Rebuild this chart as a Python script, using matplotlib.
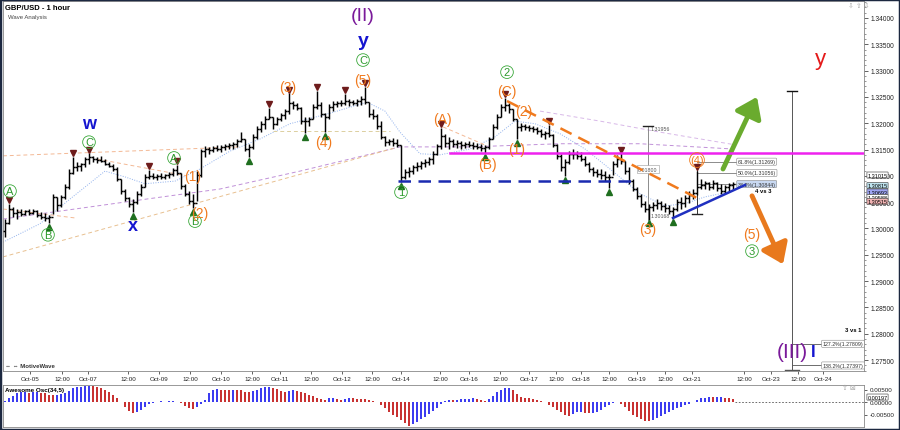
import numpy as np
import matplotlib
matplotlib.use('Agg')
import matplotlib.pyplot as plt
from matplotlib.collections import LineCollection
from matplotlib.patches import Rectangle

plt.rcParams['font.family'] = ['Liberation Sans', 'DejaVu Sans']

# ---------------- data (hourly-ish bars, bar index on x) ----------------
high = [1.3018, 1.3047, 1.3041, 1.3037, 1.3037, 1.3035, 1.3037, 1.3037, 1.3035, 1.3031,
        1.3029, 1.3026, 1.3066, 1.3060, 1.3064, 1.3085, 1.3113, 1.3136, 1.3126, 1.3124,
        1.3136, 1.3143, 1.3138, 1.3136, 1.3138, 1.3132, 1.3126, 1.3123, 1.3117, 1.3094,
        1.3075, 1.3060, 1.3056, 1.3071, 1.3085, 1.3104, 1.3111, 1.3105, 1.3104, 1.3105,
        1.3104, 1.3107, 1.3115, 1.3121, 1.3105, 1.3085, 1.3071, 1.3066, 1.3109, 1.3151,
        1.3157, 1.3155, 1.3157, 1.3159, 1.3159, 1.3161, 1.3163, 1.3164, 1.3170, 1.3183,
        1.3170, 1.3161, 1.3180, 1.3195, 1.3204, 1.3214, 1.3229, 1.3212, 1.3212, 1.3219,
        1.3227, 1.3257, 1.3242, 1.3238, 1.3231, 1.3212, 1.3212, 1.3237, 1.3261, 1.3240,
        1.3219, 1.3237, 1.3242, 1.3242, 1.3244, 1.3256, 1.3246, 1.3244, 1.3246, 1.3252,
        1.3269, 1.3240, 1.3227, 1.3218, 1.3204, 1.3176, 1.3170, 1.3172, 1.3170, 1.3159,
        1.3113, 1.3117, 1.3121, 1.3126, 1.3128, 1.3132, 1.3136, 1.3147, 1.3161, 1.3191,
        1.3180, 1.3174, 1.3170, 1.3168, 1.3166, 1.3164, 1.3166, 1.3164, 1.3163, 1.3161,
        1.3159, 1.3174, 1.3199, 1.3218, 1.3237, 1.3248, 1.3238, 1.3227, 1.3208, 1.3200,
        1.3199, 1.3197, 1.3195, 1.3193, 1.3189, 1.3185, 1.3197, 1.3180, 1.3161, 1.3142,
        1.3132, 1.3147, 1.3151, 1.3147, 1.3145, 1.3138, 1.3126, 1.3117, 1.3113, 1.3113,
        1.3109, 1.3104, 1.3128, 1.3140, 1.3143, 1.3128, 1.3117, 1.3094, 1.3079, 1.3066,
        1.3052, 1.3047, 1.3050, 1.3056, 1.3052, 1.3048, 1.3045, 1.3041, 1.3056, 1.3060,
        1.3064, 1.3071, 1.3075, 1.3109, 1.3094, 1.3090, 1.3088, 1.3092, 1.3088, 1.3085,
        1.3083, 1.3086, 1.3088]
low = [1.2984, 1.3009, 1.3022, 1.3018, 1.3024, 1.3026, 1.3026, 1.3028, 1.3022, 1.3018,
       1.3014, 1.3010, 1.3028, 1.3033, 1.3041, 1.3056, 1.3075, 1.3104, 1.3109, 1.3109,
       1.3117, 1.3123, 1.3126, 1.3124, 1.3126, 1.3121, 1.3117, 1.3109, 1.3090, 1.3066,
       1.3052, 1.3041, 1.3031, 1.3047, 1.3062, 1.3079, 1.3094, 1.3094, 1.3092, 1.3094,
       1.3094, 1.3096, 1.3100, 1.3102, 1.3075, 1.3062, 1.3047, 1.3039, 1.3052, 1.3098,
       1.3136, 1.3142, 1.3145, 1.3147, 1.3145, 1.3149, 1.3151, 1.3151, 1.3155, 1.3164,
       1.3147, 1.3136, 1.3151, 1.3170, 1.3183, 1.3189, 1.3208, 1.3189, 1.3197, 1.3204,
       1.3208, 1.3218, 1.3227, 1.3225, 1.3199, 1.3181, 1.3195, 1.3208, 1.3227, 1.3212,
       1.3183, 1.3208, 1.3223, 1.3231, 1.3233, 1.3235, 1.3233, 1.3235, 1.3233, 1.3235,
       1.3237, 1.3212, 1.3208, 1.3189, 1.3170, 1.3157, 1.3159, 1.3157, 1.3155, 1.3088,
       1.3094, 1.3098, 1.3104, 1.3109, 1.3113, 1.3117, 1.3121, 1.3123, 1.3140, 1.3151,
       1.3155, 1.3151, 1.3155, 1.3153, 1.3151, 1.3153, 1.3155, 1.3151, 1.3151, 1.3147,
       1.3143, 1.3151, 1.3170, 1.3189, 1.3212, 1.3223, 1.3219, 1.3204, 1.3170, 1.3185,
       1.3187, 1.3185, 1.3183, 1.3180, 1.3174, 1.3170, 1.3174, 1.3155, 1.3132, 1.3109,
       1.3100, 1.3123, 1.3132, 1.3132, 1.3128, 1.3119, 1.3107, 1.3100, 1.3098, 1.3094,
       1.3090, 1.3077, 1.3102, 1.3117, 1.3123, 1.3104, 1.3085, 1.3071, 1.3056, 1.3041,
       1.3031, 1.3017, 1.3033, 1.3037, 1.3035, 1.3031, 1.3028, 1.3019, 1.3033, 1.3037,
       1.3041, 1.3048, 1.3056, 1.3064, 1.3075, 1.3075, 1.3073, 1.3075, 1.3071, 1.3066,
       1.3068, 1.3071, 1.3075]
close = [1.3010, 1.3037, 1.3029, 1.3031, 1.3027, 1.3033, 1.3029, 1.3033, 1.3026, 1.3022,
         1.3020, 1.3022, 1.3060, 1.3045, 1.3060, 1.3079, 1.3105, 1.3117, 1.3119, 1.3123,
         1.3132, 1.3136, 1.3132, 1.3130, 1.3128, 1.3123, 1.3119, 1.3113, 1.3094, 1.3071,
         1.3058, 1.3047, 1.3050, 1.3066, 1.3079, 1.3098, 1.3100, 1.3098, 1.3100, 1.3098,
         1.3102, 1.3104, 1.3111, 1.3105, 1.3081, 1.3066, 1.3052, 1.3048, 1.3102, 1.3147,
         1.3151, 1.3149, 1.3153, 1.3151, 1.3155, 1.3157, 1.3159, 1.3161, 1.3166, 1.3170,
         1.3151, 1.3155, 1.3174, 1.3189, 1.3199, 1.3208, 1.3212, 1.3199, 1.3208, 1.3216,
         1.3223, 1.3238, 1.3235, 1.3229, 1.3204, 1.3204, 1.3208, 1.3231, 1.3235, 1.3218,
         1.3212, 1.3231, 1.3237, 1.3238, 1.3238, 1.3242, 1.3240, 1.3238, 1.3242, 1.3246,
         1.3240, 1.3218, 1.3214, 1.3195, 1.3174, 1.3164, 1.3166, 1.3162, 1.3159, 1.3098,
         1.3107, 1.3109, 1.3117, 1.3119, 1.3124, 1.3126, 1.3132, 1.3142, 1.3157, 1.3176,
         1.3162, 1.3166, 1.3161, 1.3162, 1.3159, 1.3161, 1.3159, 1.3157, 1.3155, 1.3153,
         1.3155, 1.3170, 1.3193, 1.3212, 1.3231, 1.3235, 1.3227, 1.3208, 1.3193, 1.3195,
         1.3193, 1.3191, 1.3189, 1.3185, 1.3180, 1.3181, 1.3178, 1.3159, 1.3138, 1.3117,
         1.3126, 1.3142, 1.3142, 1.3138, 1.3132, 1.3123, 1.3113, 1.3107, 1.3104, 1.3102,
         1.3098, 1.3098, 1.3123, 1.3132, 1.3128, 1.3109, 1.3090, 1.3075, 1.3062, 1.3047,
         1.3037, 1.3041, 1.3045, 1.3048, 1.3043, 1.3039, 1.3033, 1.3037, 1.3050, 1.3048,
         1.3058, 1.3064, 1.3067, 1.3079, 1.3083, 1.3086, 1.3079, 1.3086, 1.3077, 1.3071,
         1.3079, 1.3083, 1.3085]
first_open = 1.2995

osc = [.0005, .0015, .0025, .0035, .0040, .0042, .0038, .0040, .0042, .0038,
       .0035, .0030, .0028, .0030, .0033, .0036, .0045, .0055, .0060, .0062,
       .0064, .0065, .0063, .0060, .0055, .0048, .0040, .0028, .0015, .0000,
       -.0020, -.0035, -.0042, -.0040, -.0030, -.0018, -.0008, -.0002, .0002, .0003,
       .0002, .0003, .0004, .0002, -.0005, -.0015, -.0025, -.0028, -.0020, -.0008,
       .0010, .0035, .0050, .0052, .0050, .0050, .0049, .0050, .0050, .0048,
       .0042, .0040, .0044, .0050, .0055, .0060, .0062, .0058, .0052, .0045,
       .0042, .0045, .0048, .0046, .0040, .0035, .0030, .0025, .0018, .0012,
       .0010, .0015, .0018, .0014, .0010, .0014, .0015, .0015, .0014, .0013,
       .0012, .0010, .0006, .0000, -.0010, -.0025, -.0040, -.0050, -.0060, -.0072,
       -.0085, -.0095, -.0088, -.0078, -.0068, -.0058, -.0048, -.0035, -.0022, -.0008,
       .0005, .0010, .0008, .0010, .0012, .0013, .0014, .0015, .0013, .0010,
       .0006, .0012, .0025, .0040, .0050, .0055, .0057, .0048, .0032, .0022,
       .0018, .0016, .0014, .0010, .0006, .0000, -.0010, -.0020, -.0030, -.0040,
       -.0050, -.0055, -.0048, -.0040, -.0038, -.0042, -.0045, -.0043, -.0038, -.0030,
       -.0020, -.0010, -.0003, .0000, -.0008, -.0020, -.0035, -.0050, -.0060, -.0068,
       -.0074, -.0075, -.0070, -.0062, -.0055, -.0048, -.0040, -.0032, -.0025, -.0018,
       -.0012, -.0006, .0000, .0008, .0015, .0018, .0020, .0020, .0021, .0022,
       .0018, .0015, .0012]

date_tick_pos = [6.25, 14.25, 20.75, 30.75, 38.5, 46.25, 54, 61.75, 68.75, 76.5, 84.25, 91.75,
                 99, 108.75, 116, 123.75, 131, 137.75, 144, 151, 158, 165, 171.75, 184.75,
                 191.5, 198.25, 204.5]
date_tick_labels = ["Oct-05", "12:00", "Oct-07", "12:00", "Oct-09", "12:00", "Oct-10", "12:00",
                    "Oct-11", "12:00", "Oct-12", "12:00", "Oct-14", "12:00", "Oct-16", "12:00",
                    "Oct-17", "12:00", "Oct-18", "12:00", "Oct-19", "12:00", "Oct-21", "12:00",
                    "Oct-23", "12:00", "Oct-24"]
price_ticks = [1.275, 1.280, 1.285, 1.290, 1.295, 1.300, 1.305, 1.310, 1.315, 1.320,
               1.325, 1.330, 1.335, 1.340]
osc_ticks = [-0.005, 0.0, 0.005]

swing_high_idx = [1, 17, 21, 36, 43, 66, 71, 78, 85, 90, 109, 125, 136, 154, 173]
swing_low_idx = [11, 32, 47, 61, 75, 80, 99, 120, 128, 140, 151, 161, 167]

# moving averages / guide lines (control points: bar index, price)
ma_fast_x = [-0.5, 8.75, 16.25, 25, 30, 35, 42.5, 48.75, 56.25, 63.75, 71.25, 81.25, 90.5, 95,
             98.75, 103.75, 108.75, 116.25, 122.5, 127.5, 132.5, 138.75, 145, 151.25, 158.75,
             165, 170, 175, 182]
ma_fast_y = [1.2974, 1.3009, 1.3056, 1.3109, 1.3098, 1.3085, 1.3090, 1.3113, 1.3147, 1.3170,
             1.3199, 1.3219, 1.3240, 1.3223, 1.3183, 1.3142, 1.3140, 1.3151, 1.3174, 1.3204,
             1.3199, 1.3180, 1.3151, 1.3113, 1.3066, 1.3043, 1.3047, 1.3060, 1.3071]
ma_slow_x = [-0.5, 35.5, 53.75, 73.75, 98.75, 116.25, 138.75, 158.75, 182]
ma_slow_y = [1.3018, 1.3056, 1.3075, 1.3109, 1.3155, 1.3155, 1.3161, 1.3161, 1.3151]
ma_long_x = [133.75, 148.75, 163.75, 182.5]
ma_long_y = [1.3223, 1.3204, 1.3183, 1.3159]

wave_green = [("A", 1.25, 1.3071), ("B", 10.75, 1.2988), ("C", 21, 1.3164), ("A", 42.25, 1.3134),
              ("B", 47.5, 1.3014), ("C", 89.5, 1.3320), ("1", 99, 1.3069), ("2", 125.5, 1.3297),
              ("3", 186.75, 1.2957)]
wave_orange = [("(1)", 47, 1.3100), ("(2)", 48.75, 1.3029), ("(3)", 70.75, 1.3269),
               ("(4)", 79.75, 1.3164), ("(5)", 89.5, 1.3282), ("(A)", 109.25, 1.3208),
               ("(B)", 120.5, 1.3123), ("(C)", 125.5, 1.3261), ("(2)", 129.75, 1.3223),
               ("(1)", 128, 1.3151), ("(3)", 160.75, 1.2999), ("(5)", 186.75, 1.2990)]

fib_levels = [1.31269, 1.31056, 1.30844]
fib_names = ["61.8%", "50.0%", "38.2%"]
ext_levels = [1.27809, 1.27397]
ext_names = ["127.2%", "138.2%"]
axis_boxes = [(1.31015, "#ffffff"), (1.30815, "#bfe3ee"), (1.30693, "#9ea4f2"),
              (1.30588, "#ffffff"), (1.30515, "#f2b4b4")]

# ---------------- figure ----------------
W, H = 900, 431
fig = plt.figure(figsize=(9, 4.31), dpi=100)
fig.patch.set_facecolor('white')
ax = fig.add_axes([3 / W, 1 - 372 / H, 861 / W, 370 / H])
ax2 = fig.add_axes([3 / W, 1 - 428 / H, 861 / W, 42 / H], sharex=ax)

n = len(close)
idx = np.arange(n)
opens = [first_open] + close[:-1]

segs = []
for i in range(n):
    segs.append([(i, low[i]), (i, high[i])])
    segs.append([(i - 0.45, opens[i]), (i, opens[i])])
    segs.append([(i, close[i]), (i + 0.45, close[i])])

# guide lines (behind bars)
ax.plot(ma_fast_x, ma_fast_y, color='#8fb0ec', lw=0.7, ls=(0, (1, 1.5)), zorder=1)
ax.plot(ma_slow_x, ma_slow_y, color='#c090d8', lw=0.7, ls=(0, (4, 3)), zorder=1)
ax.plot(ma_long_x, ma_long_y, color='#d8b8e8', lw=0.7, ls=(0, (4, 3)), zorder=1)
ax.plot([-0.5, 58.75], [1.3138, 1.3155], color='#f3b894', lw=0.7, ls=(0, (4, 3)), zorder=1)
ax.plot([-0.5, 97.5], [1.2946, 1.3153], color='#e8c090', lw=0.7, ls=(0, (4, 3)), zorder=1)
ax.plot([-0.5, 17.5], [1.3037, 1.3020], color='#f3b894', lw=0.7, ls=(0, (4, 3)), zorder=1)
ax.plot([23, 45.5], [1.3132, 1.3100], color='#f3b894', lw=0.7, ls=(0, (4, 3)), zorder=1)
ax.plot([67, 96.25], [1.3185, 1.3185], color='#dccfa0', lw=0.7, ls=(0, (4, 3)), zorder=1)
ax.plot([109.5, 120.5], [1.3193, 1.3157], color='#f3b894', lw=0.7, ls=(0, (4, 3)), zorder=1)

ax.add_collection(LineCollection(segs, colors='black', linewidths=1.05, zorder=3))

hi = np.array(high)
lo = np.array(low)
ax.plot(swing_high_idx, hi[swing_high_idx] + 0.0007, 'v', color='#6e1c1c', ms=4, zorder=4)
ax.plot(swing_low_idx, lo[swing_low_idx] - 0.0007, '^', color='#1f6e1f', ms=4, zorder=4)

# structure lines
ax.plot([111.25, 214.75], [1.31434, 1.31434], color='#ee22ee', lw=1.8, zorder=5)
ax.plot([98.25, 156.75], [1.30902, 1.30902], color='#1a2ab0', lw=1.8, ls=(0, (5, 3)), zorder=5)
ax.plot([125.5, 173], [1.32422, 1.30579], color='#f07a1e', lw=1.8, ls=(0, (5, 3)), zorder=5)
ax.plot([167, 185], [1.30199, 1.30826], color='#2030c0', lw=1.8, zorder=5)

# fib tools (gray)
g = '#7a7a7a'
ax.plot([160.75, 160.75], [1.30168, 1.31956], color=g, lw=0.6, zorder=2)
ax.plot([159.5, 162], [1.31956, 1.31956], color='#222', lw=1.0, zorder=2)
ax.text(161.3, 1.3190, "1.31956", fontsize=3.8, color='#555', va='center', ha='left')
ax.text(160.75, 1.3113, "0.01800", fontsize=3.8, color='#555', va='center', ha='center',
        bbox=dict(boxstyle='square,pad=0.2', fc='white', ec='#999', lw=0.4))
ax.text(161.3, 1.3025, "1.30168", fontsize=3.8, color='#555', va='center', ha='left')

ax.plot([173, 173], [1.30275, 1.3117], color='#333', lw=0.7, zorder=2)
ax.plot([171.8, 174.2], [1.30275, 1.30275], color='#222', lw=1.0, zorder=2)
for lev, nm in zip(fib_levels, fib_names):
    ax.plot([173, 183], [lev, lev], color=g, lw=0.6, zorder=2)
    fc = '#c9d9f2' if nm == "38.2%" else 'white'
    ax.text(183.2, lev, f"{nm}({lev:.5f})", fontsize=3.8, color='#333', va='center', ha='left',
            bbox=dict(boxstyle='round,pad=0.2', fc=fc, ec='#888', lw=0.4))
ax.text(187.5, 1.3073, "4 vs 3", fontsize=4.2, fontweight='bold', va='center', ha='left')

ax.plot([196.75, 196.75], [1.2729, 1.32612], color='#555', lw=0.7, zorder=2)
ax.plot([195.6, 197.9], [1.32612, 1.32612], color='#111', lw=1.0, zorder=2)
ax.plot([195.0, 198.5], [1.2731, 1.2731], color='#555', lw=1.0, zorder=2)
for lev, nm in zip(ext_levels, ext_names):
    ax.plot([196.75, 204.25], [lev, lev], color='#555', lw=0.6, zorder=2)
    ax.text(204.4, lev, f"{nm}({lev:.5f})", fontsize=3.8, color='#333', va='center', ha='left',
            bbox=dict(boxstyle='round,pad=0.2', fc='white', ec='#888', lw=0.4))
ax.text(214.0, 1.2809, "3 vs 1", fontsize=4.2, fontweight='bold', va='center', ha='right')

# arrows
ax.annotate('', xy=(188, 1.3250), xytext=(179.5, 1.3113),
            arrowprops=dict(arrowstyle='-|>,head_width=0.5,head_length=0.7', lw=3.5,
                            color='#6aab2e', mutation_scale=17, shrinkA=0, shrinkB=0))
ax.annotate('', xy=(194.5, 1.2932), xytext=(186.75, 1.3062),
            arrowprops=dict(arrowstyle='-|>,head_width=0.5,head_length=0.7', lw=3.5,
                            color='#e8791d', mutation_scale=17, shrinkA=0, shrinkB=0))

# wave labels
for s, x, y in wave_green:
    ax.text(x, y, s, fontsize=8, color='#2d9a2d', ha='center', va='center', zorder=6,
            bbox=dict(boxstyle='circle,pad=0.12', fc='none', ec='#3aa83a', lw=0.6))
for s, x, y in wave_orange:
    ax.text(x, y, s, fontsize=10, color='#f07a1e', ha='center', va='center', zorder=6)
ax.text(173, 1.3130, "(4)", fontsize=8, color='#f07a1e', ha='center', va='center', zorder=6,
        bbox=dict(boxstyle='circle,pad=0.05', fc='none', ec='#f07a1e', lw=0.6))
ax.text(21, 1.3200, "w", fontsize=13, color='#1515d0', ha='center', va='center', fontweight='bold')
ax.text(32, 1.3005, "x", fontsize=13, color='#1515d0', ha='center', va='center', fontweight='bold')
ax.text(89.5, 1.3358, "y", fontsize=14, color='#1515d0', ha='center', va='center', fontweight='bold')
ax.text(89.5, 1.3404, "(II)", fontsize=14, color='#7a1a9a', ha='center', va='center')
ax.text(203.75, 1.3322, "y", fontsize=16, color='#e41a1a', ha='center', va='center')
ax.text(196.75, 1.2767, "(III)", fontsize=15, color='#7a1a9a', ha='center', va='center')
ax.text(202.0, 1.2767, "I", fontsize=12, color='#1515d0', ha='center', va='center', fontweight='bold')

# axis boxes on the right
ytr = ax.get_yaxis_transform()
for val, fc in axis_boxes:
    ax.text(1.004, val, f"{val:.5f}", transform=ytr, fontsize=4.0, va='center', ha='left',
            clip_on=False, zorder=7,
            bbox=dict(boxstyle='round,pad=0.1', fc=fc, ec='#555', lw=0.5))

# axes styling main
ax.set_xlim(-0.5, 214.75)
ax.set_ylim(1.27292, 1.34322)
ax.yaxis.tick_right()
ax.set_yticks(price_ticks)
ax.set_yticklabels([f"{t:.5f}" for t in price_ticks])
ax.set_yticks(np.arange(1.273, 1.343, 0.001), minor=True)
ax.tick_params(axis='y', which='major', length=3, width=0.5, labelsize=4.8, pad=1.5, colors='#222')
ax.tick_params(axis='y', which='minor', length=1.5, width=0.4, colors='#444')
ax.set_xticks(date_tick_pos)
ax.set_xticklabels(date_tick_labels)
ax.tick_params(axis='x', length=2, width=0.5, labelsize=4.5, pad=1.5, colors='#222')
for sp in ax.spines.values():
    sp.set_color('#888')
    sp.set_linewidth(0.6)

# oscillator
cols = ['#3c3cf0' if (k == 0 or osc[k] > osc[k - 1]) else '#c83232' for k in range(n)]
ax2.bar(idx, osc, width=0.62, color=cols, edgecolor='none')
ax2.plot([n - 0.5, 214.75], [0, 0], color='#555', lw=0.6, ls=(0, (2, 2)))
ax2.set_ylim(-0.0100, 0.0068)
ax2.yaxis.tick_right()
ax2.set_yticks(osc_ticks)
ax2.set_yticklabels([f"{t:.5f}" for t in osc_ticks])
ax2.tick_params(axis='y', length=2.5, width=0.5, labelsize=4.5, pad=1.5, colors='#222')
ax2.tick_params(axis='x', length=0, labelbottom=False)
for sp in ax2.spines.values():
    sp.set_color('#888')
    sp.set_linewidth(0.6)
ax2.text(1.004, 0.00197, "0.00197", transform=ax2.get_yaxis_transform(), fontsize=4.0,
         va='center', ha='left', clip_on=False,
         bbox=dict(boxstyle='round,pad=0.1', fc='white', ec='#555', lw=0.5))

# header & misc text
fig.text(5 / W, 1 - 8 / H, "GBP/USD - 1 hour", fontsize=5.5, fontweight='bold', va='center')
fig.text(8 / W, 1 - 17 / H, "Wave Analysis", fontsize=4.3, color='#444', va='center')
fig.text(5 / W, 1 - 367 / H, "⇔ ⇔ MotiveWave", fontsize=4.3, fontweight='bold', color='#333', va='center')
fig.text(5 / W, 1 - 391 / H, "Awesome Osc(34,5)", fontsize=4.5, fontweight='bold', va='center')
fig.text(848 / W, 1 - 6 / H, "⇩ ⇧ ⇩", fontsize=5, color='#aaa', va='center')
fig.text(842 / W, 1 - 389 / H, "⇧ ⊠", fontsize=5, color='#aaa', va='center')

fig.patches.append(Rectangle((0, 0), 1, 1, transform=fig.transFigure, fill=False,
                             ec='#1c2840', lw=2.5))

fig.savefig('out.png', dpi=100)
